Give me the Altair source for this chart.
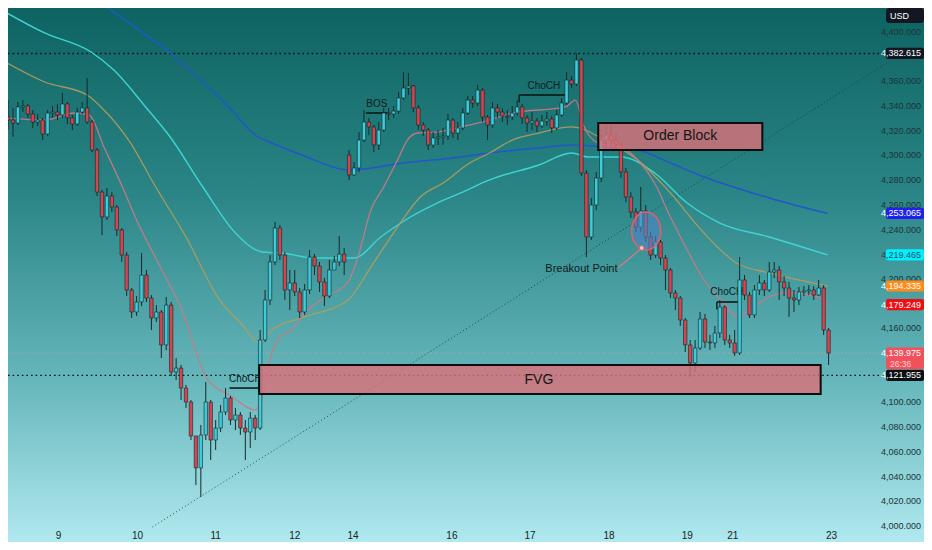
import altair as alt
import pandas as pd
import numpy as np

# ---------------- data ----------------
first_open = 4331.2
gap_open = {69: 4300.4}   # weekend gap open

closes = [4328.7, 4326.3, 4339.3, 4340.1, 4333.6, 4327.1, 4328.7, 4317.4, 4334.4, 4335.2,
          4332.8, 4341.7, 4330.4, 4325.5, 4335.2, 4338.5, 4327.1, 4304.4, 4270.4, 4250.2,
          4267.2, 4258.3, 4239.7, 4219.4, 4191.1, 4173.3, 4181.4, 4203.2, 4184.6, 4168.4,
          4173.3, 4146.6, 4178.9, 4124.7, 4127.9, 4111.7, 4100.4, 4072.9, 4047.0, 4073.7,
          4100.4, 4069.6, 4079.3, 4092.3, 4103.6, 4085.8, 4089.9, 4079.3, 4076.1, 4087.4,
          4079.3, 4150.6, 4183.0, 4213.8, 4241.3, 4219.4, 4191.1, 4196.8, 4189.5, 4173.3,
          4191.1, 4217.8, 4210.5, 4197.6, 4186.2, 4207.3, 4213.8, 4220.2, 4213.8, 4284.2,
          4289.9, 4312.5, 4327.1, 4323.1, 4308.5, 4320.6, 4334.4, 4333.6, 4336.0, 4346.6,
          4354.6, 4356.3, 4338.5, 4324.7, 4320.6, 4308.5, 4314.2, 4315.0, 4315.8, 4328.7,
          4318.2, 4322.3, 4334.4, 4344.9, 4342.5, 4353.0, 4331.2, 4324.7, 4338.5, 4335.2,
          4332.0, 4331.2, 4334.4, 4339.3, 4330.4, 4326.3, 4327.9, 4323.9, 4327.9, 4329.5,
          4322.3, 4332.8, 4342.5, 4361.1, 4357.9, 4377.3, 4285.8, 4234.0, 4259.9, 4281.8,
          4312.5, 4316.6, 4312.5, 4308.5, 4286.6, 4266.4, 4254.2, 4242.1, 4255.1, 4234.0,
          4219.4, 4229.9, 4217.0, 4207.3, 4188.7, 4184.6, 4166.8, 4146.6, 4132.0, 4144.1,
          4167.6, 4149.0, 4148.2, 4156.3, 4177.3, 4150.6, 4148.2, 4140.1, 4199.2, 4187.0,
          4170.9, 4191.1, 4196.8, 4191.1, 4205.7, 4207.3, 4197.6, 4192.7, 4184.6, 4183.0,
          4189.5, 4190.3, 4191.1, 4187.0, 4192.7, 4158.7, 4139.975]

highs = [4344.9, 4338.5, 4343.3, 4344.9, 4341.7, 4336.8, 4333.6, 4330.4, 4336.8, 4340.1,
         4341.7, 4350.6, 4343.3, 4332.8, 4338.5, 4343.3, 4362.7, 4328.7, 4306.1, 4272.1,
         4273.7, 4270.4, 4259.9, 4241.3, 4221.9, 4192.7, 4186.2, 4221.0, 4207.3, 4187.0,
         4178.9, 4174.9, 4185.4, 4181.4, 4136.0, 4130.4, 4114.2, 4102.0, 4069.6, 4081.8,
         4116.6, 4102.0, 4085.8, 4098.0, 4111.7, 4105.3, 4095.6, 4092.3, 4085.8, 4092.3,
         4089.9, 4158.7, 4191.1, 4219.4, 4246.2, 4243.7, 4221.9, 4207.3, 4207.3, 4192.7,
         4195.9, 4223.5, 4220.2, 4213.8, 4200.8, 4215.4, 4218.6, 4234.8, 4225.1, 4304.4,
         4294.7, 4319.0, 4336.8, 4330.4, 4324.7, 4327.1, 4338.5, 4338.5, 4340.1, 4351.4,
         4367.6, 4366.8, 4357.1, 4340.9, 4327.1, 4322.3, 4319.0, 4320.6, 4322.3, 4333.6,
         4330.4, 4327.1, 4338.5, 4348.2, 4348.2, 4357.1, 4354.6, 4332.8, 4343.3, 4341.7,
         4338.5, 4336.8, 4340.1, 4344.9, 4341.7, 4332.8, 4335.2, 4330.4, 4332.8, 4335.2,
         4332.0, 4336.8, 4346.6, 4367.6, 4364.4, 4382.615, 4378.9, 4288.2, 4265.6, 4286.6,
         4317.4, 4324.7, 4324.7, 4319.0, 4310.9, 4289.9, 4270.4, 4257.5, 4274.5, 4259.9,
         4238.1, 4234.8, 4231.6, 4219.4, 4208.9, 4191.1, 4186.2, 4168.4, 4150.6, 4150.6,
         4173.3, 4171.7, 4154.7, 4162.0, 4183.0, 4178.9, 4154.7, 4158.7, 4217.8, 4203.2,
         4189.5, 4195.1, 4203.2, 4199.2, 4213.8, 4213.8, 4210.5, 4202.4, 4197.6, 4191.1,
         4193.5, 4194.3, 4195.1, 4194.3, 4199.2, 4195.1, 4160.3]

lows = [4320.6, 4315.0, 4324.7, 4335.2, 4330.4, 4322.3, 4323.9, 4312.5, 4315.8, 4330.4,
        4328.7, 4330.4, 4325.5, 4320.6, 4323.9, 4333.6, 4325.5, 4302.8, 4267.2, 4235.6,
        4247.8, 4254.2, 4234.8, 4213.8, 4186.2, 4168.4, 4170.1, 4178.1, 4181.4, 4158.7,
        4165.2, 4136.0, 4142.5, 4121.4, 4118.2, 4102.0, 4095.6, 4069.6, 4033.2, 4023.5,
        4069.6, 4053.4, 4061.5, 4076.1, 4089.9, 4081.8, 4077.7, 4073.7, 4053.4, 4063.2,
        4069.6, 4077.7, 4149.0, 4178.9, 4211.3, 4215.4, 4183.0, 4174.9, 4186.2, 4168.4,
        4170.9, 4187.9, 4203.2, 4189.5, 4178.1, 4184.6, 4207.3, 4210.5, 4203.2, 4280.2,
        4283.4, 4286.6, 4310.9, 4316.6, 4302.8, 4304.4, 4319.0, 4328.7, 4330.4, 4333.6,
        4344.9, 4349.0, 4335.2, 4320.6, 4315.8, 4304.4, 4306.1, 4308.5, 4308.5, 4312.5,
        4314.2, 4312.5, 4320.6, 4332.8, 4338.5, 4340.1, 4327.1, 4312.5, 4322.3, 4330.4,
        4327.1, 4324.7, 4328.7, 4332.0, 4325.5, 4319.0, 4320.6, 4319.0, 4322.3, 4323.9,
        4318.2, 4320.6, 4331.2, 4340.9, 4354.6, 4356.3, 4283.4, 4217.8, 4231.6, 4255.9,
        4278.5, 4308.5, 4307.7, 4304.4, 4281.8, 4262.3, 4249.4, 4238.1, 4238.1, 4229.9,
        4215.4, 4217.0, 4211.3, 4191.1, 4184.6, 4174.9, 4162.0, 4140.9, 4120.6, 4124.7,
        4142.5, 4144.1, 4142.5, 4144.1, 4152.2, 4146.6, 4144.1, 4137.6, 4138.5, 4183.0,
        4168.4, 4168.4, 4187.0, 4186.2, 4189.5, 4200.8, 4183.0, 4186.2, 4169.3, 4173.3,
        4178.9, 4186.2, 4187.0, 4183.0, 4186.2, 4154.7, 4130.4]

# moving averages (knots: candle index, price)
ma_blue_x = [7.4, 18, 25.4, 32.8, 39.4, 44.8, 50, 53.4, 59.4, 69.4, 80, 90, 97.4, 107.4, 114,
             120.8, 127.4, 134, 140.8, 147.4, 154, 165.8]
ma_blue_p = [4456.7, 4425.9, 4404.8, 4383.0, 4359.5, 4338.5, 4316.6, 4310.1, 4300.4, 4288.2,
             4293.9, 4298.0, 4302.0, 4306.1, 4308.5, 4306.9, 4304.4, 4293.9, 4282.6, 4273.7,
             4265.6, 4253.065]
ma_cyan_x = [-0.6, 7.4, 16.8, 21.4, 28, 32.8, 39.4, 46, 51.4, 55.4, 62, 70, 75.4, 81.4, 86.8,
             92, 97.4, 107.4, 114, 117.4, 124, 130.8, 137.4, 144, 154, 165.8]
ma_cyan_p = [4416.2, 4399.2, 4383.8, 4369.2, 4338.5, 4315.0, 4274.5, 4237.2, 4221.9, 4221.0,
             4217.0, 4217.0, 4234.0, 4250.2, 4261.5, 4270.4, 4280.2, 4292.3, 4302.0, 4298.8,
             4298.8, 4285.8, 4261.5, 4245.3, 4234.0, 4219.465]
ma_tan_x = [-0.6, 7.4, 16, 19, 24.8, 29.4, 36, 42.8, 47.4, 50.8, 53.4, 60, 68.8, 73.4, 78.8,
            83.4, 88, 93.4, 97.4, 102, 107.4, 114, 120.8, 127.4, 134, 140.8, 147.4, 154, 165.8]
ma_tan_p = [4375.7, 4359.5, 4349.0, 4338.5, 4310.1, 4277.7, 4234.0, 4183.0, 4162.8, 4148.2,
            4158.7, 4169.3, 4183.0, 4209.7, 4242.1, 4266.4, 4277.7, 4293.9, 4302.0, 4312.5,
            4318.2, 4323.1, 4312.5, 4296.3, 4269.6, 4237.2, 4212.9, 4204.9, 4194.335]
ma_red_x = [-0.6, 7.4, 13.4, 16.4, 19.4, 23.4, 26, 30.8, 35.4, 38.8, 40, 45.4, 50, 51.8, 53,
            54.8, 57.4, 60, 64, 68.8, 70.8, 73.4, 76, 78.8, 80.8, 82.8, 86.8, 93.4, 97.4, 102,
            112.8, 114.8, 116.4, 119.4, 124, 127.4, 130.8, 134, 137.4, 140.8, 144.8, 147.4,
            150.8, 154, 157.4, 164, 165.8]
ma_red_p = [4330.4, 4328.7, 4334.4, 4332.8, 4306.9, 4272.1, 4247.8, 4209.7, 4172.5, 4132.0,
            4120.6, 4104.5, 4093.9, 4110.1, 4134.4, 4152.2, 4158.7, 4172.5, 4184.6, 4197.6,
            4217.8, 4255.9, 4274.5, 4296.3, 4312.5, 4318.2, 4319.0, 4324.7, 4328.7, 4334.4,
            4339.3, 4344.9, 4324.7, 4310.1, 4306.9, 4296.3, 4277.7, 4250.2, 4223.5, 4199.2,
            4180.6, 4169.3, 4177.3, 4185.4, 4188.7, 4185.4, 4179.249]

trend_x = [29.2, 177.8]
trend_p = [3999.2, 4374.9]

day_labels = ["9", "10", "11", "12", "14", "16", "17", "18", "19", "21", "23"]
day_pos = [10.2, 26.2, 42.0, 58.0, 69.8, 89.8, 105.6, 121.6, 137.4, 146.6, 166.6]

# right-scale tick labels visible in the reference (the others sit under the price tags)
price_ticks = [4000, 4020, 4040, 4060, 4080, 4100, 4160, 4200,
               4240, 4260, 4280, 4300, 4320, 4340, 4360, 4400]

tag_prices = [4382.615, 4253.065, 4219.465, 4194.335, 4179.249, 4121.955, 4139.975]
tag_bg = ["#131722", "#1f1ff0", "#00f0ff", "#ff8c1a", "#f20d14", "#0b0f14", "#f2505a"]
tag_fg = ["#ffffff", "#ffffff", "#1b4f5c", "#ffffff", "#ffffff", "#ffffff", "#ffffff"]
countdown = "26:36"

dotted_levels = [4382.615, 4121.955]
last_price = 4139.975

fvg_box = {"x1": 50.8, "x2": 164.4, "top": 4130.4, "bottom": 4106.9, "label": "FVG",
           "lx": 107.4, "lp": 4118.6}
ob_box = {"x1": 119.4, "x2": 152.6, "top": 4326.3, "bottom": 4304.5, "label": "Order Block",
          "lx": 136.0, "lp": 4315.4}

struct_text = ["ChoCH", "BOS", "ChoCH", "ChoCH"]
struct_tx = [48.0, 74.6, 108.4, 145.4]
struct_tp = [4119.0, 4341.7, 4356.3, 4189.5]
struct_x1 = [44.8, 72.4, 103.4, 143.4]
struct_x2 = [50.8, 76.8, 112.8, 147.8]
struct_lp = [4111.7, 4334.4, 4349.0, 4181.4]

breakout_x, breakout_p = 116.0, 4208.1
circle_x, circle_p = 129.1, 4238.9
pointer_x = [128.2, 123.4]
pointer_p = [4225.1, 4208.9]

# ---------------- styling constants ----------------
PX_PER_UNIT = 1.235
W, H = 876, 520
FONT = "'Liberation Sans Narrow', 'Liberation Sans', Roboto, sans-serif"
xs = alt.Scale(domain=[1, 176.2], nice=False, zero=False)
ys = alt.Scale(domain=[3998.38, 4419.43], nice=False, zero=False)


def X(f):
    return alt.X(f, type="quantitative", scale=xs, axis=None)


def Y(f):
    return alt.Y(f, type="quantitative", scale=ys, axis=None)


# ---------------- tables ----------------
n = len(closes)
opens = [first_open] + closes[:-1]
for k, v in gap_open.items():
    opens[k] = v
candles = pd.DataFrame({"i": list(range(n)), "open": opens, "close": closes,
                        "high": highs, "low": lows})
candles["dir"] = np.where(candles["close"] >= candles["open"], "up", "down")

one = pd.DataFrame({"a": [0]})

# background gradient
bg = alt.Chart(one).mark_rect(
    fill=alt.LinearGradient(
        gradient="linear",
        stops=[alt.GradientStop(offset=0, color="#0d6361"),
               alt.GradientStop(offset=0.35, color="#2b8586"),
               alt.GradientStop(offset=0.7, color="#66b7bb"),
               alt.GradientStop(offset=1, color="#b0e9ef")],
        x1=0, x2=0, y1=0, y2=1)
).encode(x=alt.value(0), x2=alt.value(W + 40), y=alt.value(0), y2=alt.value(H + 14))

trend = alt.Chart(pd.DataFrame({"x": trend_x, "p": trend_p})).mark_line(
    color="#1b3c3d", strokeWidth=0.9, strokeDash=[1, 2.5]).encode(x=X("x"), y=Y("p"))

hl = alt.Chart(pd.DataFrame({"p": dotted_levels})).mark_rule(
    color="#0a1212", strokeWidth=1.4, strokeDash=[1.6, 3]).encode(
    y=Y("p"), x=alt.value(0), x2=alt.value(W + 2))

lastline = alt.Chart(pd.DataFrame({"p": [last_price]})).mark_rule(
    color="#e3a3ab", strokeWidth=1, strokeDash=[1, 2], opacity=0.7).encode(
    y=Y("p"), x=alt.value(0), x2=alt.value(W + 2))


def ma(xv, pv, color, w, op=1.0):
    return alt.Chart(pd.DataFrame({"x": xv, "p": pv})).mark_line(
        color=color, strokeWidth=w, opacity=op, interpolate="monotone").encode(
        x=X("x"), y=Y("p"))


ma_blue = ma(ma_blue_x, ma_blue_p, "#2257c9", 1.5)
ma_cyan = ma(ma_cyan_x, ma_cyan_p, "#3fd4d4", 1.4)
ma_tan = ma(ma_tan_x, ma_tan_p, "#b59c5c", 1.3, 0.9)
ma_red = ma(ma_red_x, ma_red_p, "#c97a86", 1.3, 0.9)

struct_df = pd.DataFrame({"t": struct_text, "tx": struct_tx, "tp": struct_tp,
                          "x1": struct_x1, "x2": struct_x2, "lp": struct_lp})
struct_lines = alt.Chart(struct_df).mark_rule(color="#0a1010", strokeWidth=1.5).encode(
    x=X("x1"), x2="x2", y=Y("lp"))
struct_ticks = alt.Chart(struct_df.iloc[2:]).mark_rule(color="#0a1010", strokeWidth=1.3).encode(
    x=X("x1"), y=Y("lp"), y2=alt.Y2("tp_low:Q")).transform_calculate(
    tp_low="datum.lp - 6")
struct_texts = alt.Chart(struct_df).mark_text(
    fontSize=10, color="#0f1d1d", font=FONT).encode(x=X("tx"), y=Y("tp"), text="t:N")

wicks = alt.Chart(candles).mark_rule(color="#172a2b", strokeWidth=1).encode(
    x=X("i"), y=Y("low"), y2="high")
bodies = alt.Chart(candles).mark_bar(width=3.4, stroke="#122424", strokeWidth=0.6).encode(
    x=X("i"), y=Y("open"), y2="close",
    color=alt.Color("dir:N", scale=alt.Scale(domain=["up", "down"],
                                             range=["#3ecbdc", "#d6444f"]), legend=None))

boxes = alt.Chart(pd.DataFrame([fvg_box, ob_box])).mark_rect(
    fill="#d9707a", fillOpacity=0.82, stroke="#0c0c0c", strokeWidth=2).encode(
    x=X("x1"), x2="x2", y=Y("top"), y2="bottom")
box_text = alt.Chart(pd.DataFrame([fvg_box, ob_box])).mark_text(
    fontSize=14, color="#151515", font=FONT).encode(x=X("lx"), y=Y("lp"), text="label:N")

ellipse_path = ("M-1,0C-1,-0.7235,-0.5523,-1.31,0,-1.31C0.5523,-1.31,1,-0.7235,1,0"
                "C1,0.7235,0.5523,1.31,0,1.31C-0.5523,1.31,-1,0.7235,-1,0Z")
circle = alt.Chart(pd.DataFrame({"x": [circle_x], "p": [circle_p]})).mark_point(
    shape=ellipse_path, size=841, filled=True, fill="#4f86c6", fillOpacity=0.6,
    stroke="#e2606c", strokeWidth=1.6, opacity=1).encode(x=X("x"), y=Y("p"))
pointer = alt.Chart(pd.DataFrame({"x": pointer_x, "p": pointer_p})).mark_line(
    color="#e07884", strokeWidth=1.2).encode(x=X("x"), y=Y("p"))
dot = alt.Chart(pd.DataFrame({"x": pointer_x[:1], "p": pointer_p[:1]})).mark_point(
    shape="circle", size=22, filled=True, fill="#f6c8ce", stroke="#e0606c",
    strokeWidth=1, opacity=1).encode(x=X("x"), y=Y("p"))
breakout = alt.Chart(pd.DataFrame({"x": [breakout_x], "p": [breakout_p],
                                   "t": ["Breakout Point"]})).mark_text(
    fontSize=11, color="#101c1c", font=FONT).encode(x=X("x"), y=Y("p"), text="t:N")

# right price scale
ylab = alt.Chart(pd.DataFrame({"p": price_ticks,
                               "t": [f"{v:,.3f}" for v in price_ticks]})).mark_text(
    align="right", fontSize=9, color="#1b3536", font=FONT).encode(
    x=alt.value(W + 37), y=Y("p"), text="t:N")

tag_df = pd.DataFrame({"p": tag_prices, "bg": tag_bg, "fg": tag_fg,
                       "t": [f"{v:,.3f}" for v in tag_prices]})
tag_df["top"] = tag_df["p"] + 5.6 / PX_PER_UNIT
tag_df["bottom"] = tag_df["p"] - 5.6 / PX_PER_UNIT
tag_df.loc[tag_df["p"] == last_price, "bottom"] = last_price - 16 / PX_PER_UNIT
tag_rects = alt.Chart(tag_df).mark_rect(cornerRadius=2).encode(
    x=alt.value(W + 2), x2=alt.value(W + 40), y=Y("top"), y2="bottom",
    fill=alt.Fill("bg:N", scale=None))
tag_text = alt.Chart(tag_df).mark_text(align="right", fontSize=9, font=FONT).encode(
    x=alt.value(W + 37), y=Y("p"), text="t:N", color=alt.Color("fg:N", scale=None))
cd_text = alt.Chart(pd.DataFrame({"p": [last_price - 11 / PX_PER_UNIT], "t": [countdown]})).mark_text(
    align="left", fontSize=8.5, color="#ffd3d8", font=FONT).encode(
    x=alt.value(W + 6), y=Y("p"), text="t:N")

usd_box = alt.Chart(one).mark_rect(cornerRadius=3, fill="#131722").encode(
    x=alt.value(W + 2), x2=alt.value(W + 40), y=alt.value(0), y2=alt.value(15))
usd_text = alt.Chart(pd.DataFrame({"t": ["USD"]})).mark_text(
    align="left", fontSize=9, color="#ffffff", font=FONT, baseline="middle").encode(
    x=alt.value(W + 6), y=alt.value(7.5), text="t:N")

xlab = alt.Chart(pd.DataFrame({"x": day_pos, "t": day_labels})).mark_text(
    baseline="top", fontSize=10, color="#142424", font=FONT).encode(
    x=X("x"), y=alt.value(H + 3), text="t:N")

chart = alt.layer(
    bg, trend, hl, lastline, ma_blue, ma_cyan, ma_tan, ma_red,
    struct_lines, struct_ticks, struct_texts,
    wicks, bodies, boxes, box_text, circle, pointer, dot, breakout,
    ylab, tag_rects, tag_text, cd_text, usd_box, usd_text, xlab
).properties(
    width=W, height=H,
    padding={"left": 0, "top": 0, "right": 40, "bottom": 14},
    autosize=alt.AutoSizeParams(type="none")
).configure_view(strokeWidth=0).configure(background="#0d6361")

chart.save("out.html", embed_options={"renderer": "svg", "actions": False})
